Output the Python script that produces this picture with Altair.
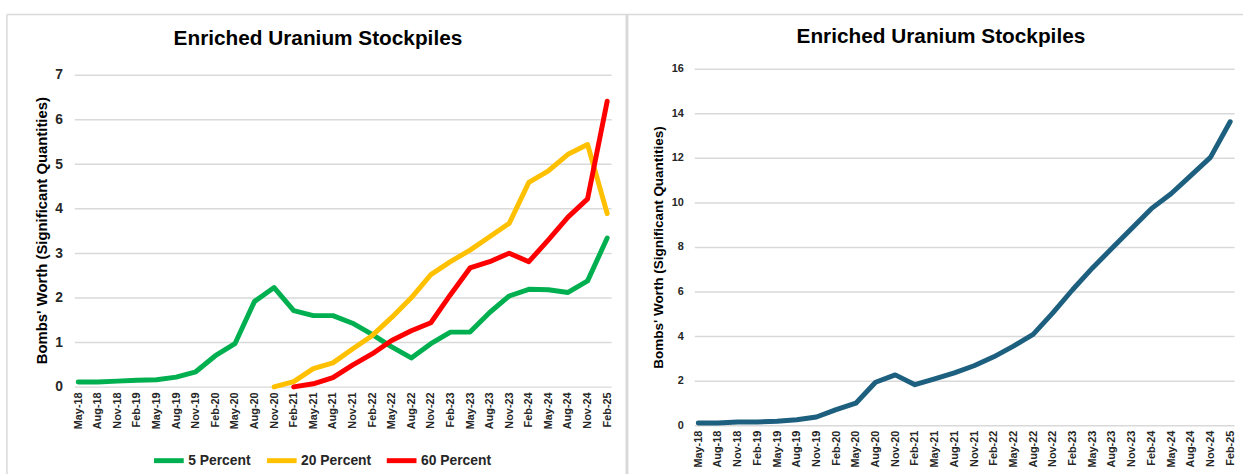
import altair as alt
import pandas as pd

quarters = ["May-18", "Aug-18", "Nov-18", "Feb-19", "May-19", "Aug-19", "Nov-19",
            "Feb-20", "May-20", "Aug-20", "Nov-20", "Feb-21", "May-21", "Aug-21",
            "Nov-21", "Feb-22", "May-22", "Aug-22", "Nov-22", "Feb-23", "May-23",
            "Aug-23", "Nov-23", "Feb-24", "May-24", "Aug-24", "Nov-24", "Feb-25"]

pct5 = [0.11, 0.11, 0.13, 0.15, 0.16, 0.22, 0.34, 0.70, 0.97, 1.92, 2.23, 1.71,
        1.60, 1.60, 1.43, 1.18, 0.90, 0.65, 0.97, 1.23, 1.23, 1.67, 2.04, 2.19,
        2.18, 2.12, 2.38, 3.34]
pct20 = [None] * 10 + [0.0, 0.12, 0.41, 0.54, 0.85, 1.15, 1.56, 2.00, 2.52, 2.81,
                       3.07, 3.37, 3.67, 4.59, 4.85, 5.22, 5.44, 3.89]
pct60 = [None] * 11 + [0.0, 0.07, 0.21, 0.49, 0.74, 1.04, 1.26, 1.44, 2.07, 2.67,
                       2.81, 3.00, 2.81, 3.30, 3.81, 4.22, 6.41]
total = [0.10, 0.10, 0.15, 0.15, 0.18, 0.25, 0.37, 0.70, 0.99, 1.93, 2.26, 1.82,
         2.08, 2.35, 2.67, 3.07, 3.55, 4.08, 5.04, 6.08, 7.05, 7.94, 8.83, 9.72,
         10.39, 11.20, 12.02, 13.62]

series_names = ["5 Percent", "20 Percent", "60 Percent"]
series_colors = ["#00B050", "#FFC000", "#FF0000"]
total_color = "#1D5F7F"

title_text = "Enriched Uranium Stockpiles"
y_title = "Bombs' Worth (Significant Quantities)"
FONT = "Liberation Sans"
GRID = "#D9D9D9"
FRAME = "#D9D9D9"

rows = []
for name, vals in zip(series_names, [pct5, pct20, pct60]):
    for q, v in zip(quarters, vals):
        if v is not None:
            rows.append({"quarter": q, "series": name, "value": v})
left_df = pd.DataFrame(rows)
right_df = pd.DataFrame({"quarter": quarters, "total": total})

blank = alt.Data(values=[{}])


def x_enc():
    return alt.X("quarter:N", sort=quarters,
                 scale=alt.Scale(type="point", padding=0.2),
                 axis=alt.Axis(title=None, labelAngle=270, labelFont=FONT,
                               labelFontSize=11, labelFontWeight="bold",
                               labelColor="#262626", labelPadding=5,
                               ticks=False, domain=False, grid=False))


def title_mark(x, y):
    return alt.Chart(blank).mark_text(
        text=title_text, font=FONT, fontSize=21, fontWeight="bold",
        color="#000000", align="center", baseline="alphabetic"
    ).encode(x=alt.value(x), y=alt.value(y))


left_lines = alt.Chart(left_df).mark_line(
    strokeWidth=5, strokeCap="round", strokeJoin="round"
).encode(
    x=x_enc(),
    y=alt.Y("value:Q",
            scale=alt.Scale(domain=[0, 7.14], nice=False, zero=True),
            axis=alt.Axis(values=list(range(8)), title=y_title,
                          titleFont=FONT, titleFontSize=15, titleFontWeight="bold",
                          titleColor="#000000", titlePadding=5, titleY=163,
                          labelFont=FONT, labelFontSize=14, labelFontWeight="bold",
                          labelColor="#262626", labelPadding=12,
                          ticks=False, domain=False, gridColor=GRID, gridWidth=1.5)),
    color=alt.Color("series:N", sort=series_names,
                    scale=alt.Scale(domain=series_names, range=series_colors),
                    legend=alt.Legend(title=None, orient="none", legendX=78, legendY=378,
                                      direction="horizontal", symbolType="stroke",
                                      symbolSize=900, symbolStrokeWidth=5,
                                      labelFont=FONT, labelFontSize=14,
                                      labelFontWeight="bold", labelColor="#262626",
                                      labelOffset=2, columnPadding=5, padding=0)),
    detail="series:N",
)

frame_top = alt.Chart(blank).mark_rule(color=FRAME, strokeWidth=1.5).encode(
    x=alt.value(-68), x2=alt.value(1180), y=alt.value(-54.7))
frame_left = alt.Chart(blank).mark_rule(color=FRAME, strokeWidth=1.5).encode(
    x=alt.value(-68), y=alt.value(-54.7), y2=alt.value(420))
frame_mid = alt.Chart(blank).mark_rule(color=FRAME, strokeWidth=3).encode(
    x=alt.value(558), y=alt.value(-54.7), y2=alt.value(420))

left = alt.layer(frame_top, frame_left, frame_mid, title_mark(246, -23.5),
                 left_lines).properties(width=542, height=321.3)

right_line = alt.Chart(right_df).mark_line(
    strokeWidth=5, strokeCap="round", strokeJoin="round", color=total_color
).encode(
    x=x_enc(),
    y=alt.Y("total:Q",
            scale=alt.Scale(domain=[0, 16], nice=False, zero=True),
            axis=alt.Axis(values=list(range(0, 17, 2)), title=y_title,
                          titleFont=FONT, titleFontSize=13.6, titleFontWeight="bold",
                          titleColor="#000000", titlePadding=6,
                          labelFont=FONT, labelFontSize=11, labelFontWeight="bold",
                          labelColor="#262626", labelPadding=11,
                          ticks=False, domain=False, gridColor=GRID, gridWidth=1.5)),
)

right = alt.layer(title_mark(249, -25.5), right_line).properties(width=545, height=360)

chart = alt.hconcat(left, right, spacing=84, bounds="flush").properties(
    padding={"left": 6, "top": 10, "right": 0, "bottom": 0},
    background="#FFFFFF",
).configure_view(stroke=None)

chart.save("out.html", embed_options={"renderer": "svg", "actions": False})
